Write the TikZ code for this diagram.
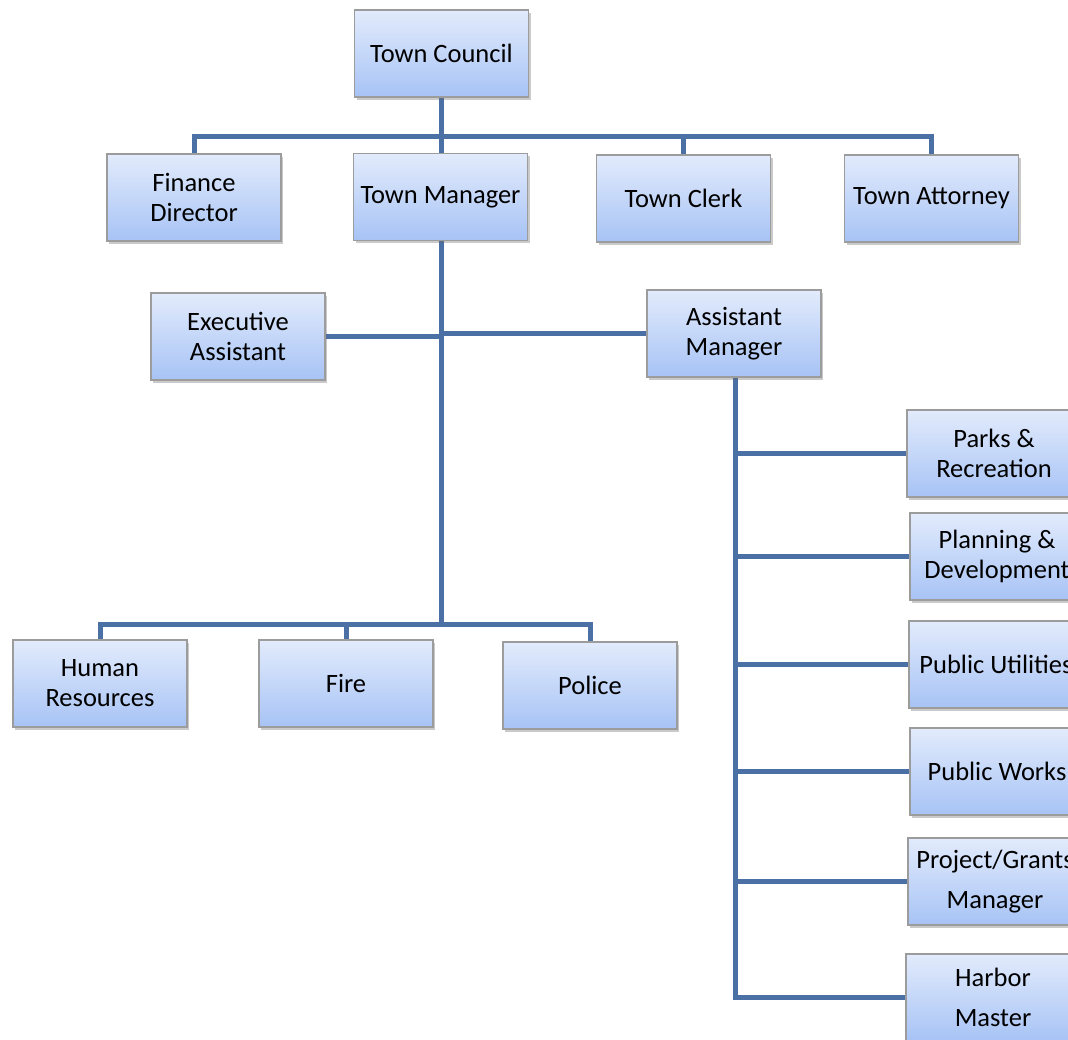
\documentclass[tikz,border=0pt]{standalone}
\usepackage{fontspec}
\setmainfont{Carlito}
\usetikzlibrary{shadows,backgrounds}
\definecolor{linec}{HTML}{4A70A6}
\definecolor{boxtop}{HTML}{E2EBFC}
\definecolor{boxbot}{HTML}{A7C3F5}
\definecolor{boxline}{HTML}{9C9C9C}
\tikzset{
  box/.style={draw=boxline, line width=1.2pt, top color=boxtop, bottom color=boxbot,
    minimum width=174pt, minimum height=87pt, inner sep=0pt, align=center,
    font=\fontsize{26.5}{30}\selectfont,
    drop shadow={shadow xshift=2pt, shadow yshift=-2.5pt, opacity=0.35, fill=black!60}},
  wide/.style={font=\fontsize{26.5}{40.5}\selectfont},
  conn/.style={draw=linec, line width=5pt, line cap=rect}
}
\begin{document}
\begin{tikzpicture}[x=1pt,y=-1pt]
\useasboundingbox (0,0) rectangle (1068,1039);
\clip (0,0) rectangle (1068,1039);
\node[box] (council) at (441.5,53.5) {Town Council};
\node[box] (finance) at (194,197.5) {Finance\\Director};
\node[box] (manager) at (440.5,197) {Town Manager};
\node[box] (clerk) at (683.5,198.5) {Town Clerk};
\node[box] (attorney) at (931.5,198.5) {Town Attorney};
\node[box] (ea) at (238,336.5) {Executive\\Assistant};
\node[box] (am) at (734,333.5) {Assistant\\Manager};
\node[box] (parks) at (994,453.5) {Parks \&\\Recreation};
\node[box] (planning) at (997,556.5) {Planning \&\\Development};
\node[box] (utilities) at (996,664.5) {Public Utilities};
\node[box] (works) at (997,771.5) {Public Works};
\node[box,wide] (grants) at (995,881.5) {Project/Grants\\Manager};
\node[box,wide] (harbor) at (993,997.5) {Harbor\\Master};
\node[box] (hr) at (100,683.5) {Human\\Resources};
\node[box] (fire) at (346,683.5) {Fire};
\node[box] (police) at (590,685.5) {Police};
\coordinate (bar) at (441,136);
\coordinate (mb) at (441,624);
\coordinate (at) at (735,997.5);
\begin{pgfonlayer}{background}
\draw[conn] (council.south -| bar) -- (manager.north -| bar);
\draw[conn] (finance.north) |- (attorney.north |- bar) -- (attorney.north);
\draw[conn] (clerk.north) -- (clerk.north |- bar);
\draw[conn] (manager.south -| mb) -- (mb);
\draw[conn] (ea.east) -- (ea.east -| mb);
\draw[conn] (am.west) -- (am.west -| mb);
\draw[conn] (hr.north) |- (police.north |- mb) -- (police.north);
\draw[conn] (fire.north) -- (fire.north |- mb);
\draw[conn] (am.south -| at) -- (at) -- (harbor.west);
\draw[conn] (parks.west) -- (parks.west -| at);
\draw[conn] (planning.west) -- (planning.west -| at);
\draw[conn] (utilities.west) -- (utilities.west -| at);
\draw[conn] (works.west) -- (works.west -| at);
\draw[conn] (grants.west) -- (grants.west -| at);
\end{pgfonlayer}
\end{tikzpicture}
\end{document}
